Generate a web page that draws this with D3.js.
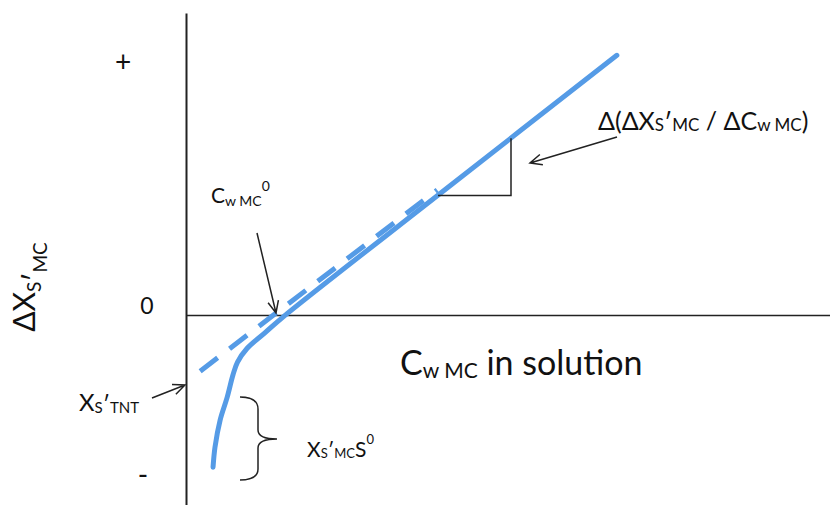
<!DOCTYPE html>
<html>
<head>
<meta charset="utf-8">
<script src="https://cdn.jsdelivr.net/npm/d3@7"></script>
<style>
body { margin: 0; background: #fff; }
text { font-family: Lato, "Open Sans", sans-serif; fill: #111; }
</style>
</head>
<body>
<script>
var width = 830;
var height = 505;

// values (arbitrary units)
var solidX = [0.42, 0.45, 0.53, 0.64, 0.73, 0.80, 0.95, 1.22, 1.51, 4.10, 6.69];
var solidY = [-2.52, -2.19, -1.74, -1.36, -0.99, -0.78, -0.55, -0.30, -0.03, 2.14, 4.30];
var dashX = [0.22, 3.90];
var dashY = [-0.93, 2.07];
var tickLabels = ["+", "0", "-"];
var tickValues = [4.14, 0.12, -2.70];

var x = d3.scaleLinear().domain([0, 10]).range([186, 830]);
var y = d3.scaleLinear().domain([-3.146, 5]).range([505, 13]);

var svg = d3.select("body").append("svg")
    .attr("width", width)
    .attr("height", height);

// axes, no ticks
var yAxis = svg.append("g")
    .attr("transform", `translate(${x(0)},0)`)
    .call(d3.axisLeft(y).tickValues([]).tickSizeOuter(0));
yAxis.select(".domain").attr("stroke", "#222").attr("stroke-width", 2);

var xAxis = svg.append("g")
    .attr("transform", `translate(0,${y(0)})`)
    .call(d3.axisBottom(x).tickValues([]).tickSizeOuter(0));
xAxis.select(".domain").attr("stroke", "#222").attr("stroke-width", 1.5);

var blue = "#559be6";

var solid = solidX.map((d, i) => [d, solidY[i]]);
var dashed = dashX.map((d, i) => [d, dashY[i]]);

var line = d3.line()
    .x((d) => x(d[0]))
    .y((d) => y(d[1]))
    .curve(d3.curveCatmullRom);

svg.append("path")
    .attr("d", line(dashed))
    .attr("fill", "none")
    .attr("stroke", blue)
    .attr("stroke-width", 5)
    .attr("stroke-dasharray", "22,15");

svg.append("path")
    .attr("d", line(solid))
    .attr("fill", "none")
    .attr("stroke", blue)
    .attr("stroke-width", 5)
    .attr("stroke-linecap", "round");

// slope triangle off the straight part of the line
var n = solid.length;
var lineAt = d3.scaleLinear().domain([solid[n - 3][0], solid[n - 1][0]]).range([solid[n - 3][1], solid[n - 1][1]]);
var tx0 = x.invert(438), tx1 = x.invert(511);
svg.append("path")
    .attr("d", `M${x(tx0)},${y(lineAt(tx0))} L${x(tx1)},${y(lineAt(tx0))} L${x(tx1)},${y(lineAt(tx1))}`)
    .attr("fill", "none")
    .attr("stroke", "#222")
    .attr("stroke-width", 1.5);

// tick-ish labels
var tickX = [123, 147, 143];
svg.selectAll(".tk")
    .data(tickLabels)
    .enter().append("text")
    .attr("class", "tk")
    .attr("x", (d, i) => tickX[i])
    .attr("y", (d, i) => y(tickValues[i]))
    .attr("text-anchor", "middle")
    .attr("dominant-baseline", "middle")
    .attr("font-size", (d) => d === "0" ? 23 : 28)
    .text((d) => d);

// text with sub/superscripts: parts = [text, size, baseline offset]
function rich(sel, px, py, parts, anchor) {
    var t = sel.append("text")
        .attr("x", px)
        .attr("y", py)
        .attr("text-anchor", anchor || "start");
    var prev = 0;
    parts.forEach((p) => {
        t.append("tspan")
            .attr("font-size", p[1])
            .attr("dy", p[2] - prev)
            .text(p[0]);
        prev = p[2];
    });
    return t;
}

// y axis title
var yt = svg.append("g").attr("transform", "translate(35,287) rotate(-90)");
rich(yt, 0, 0, [["ΔX", 30, 0], ["S", 19, 6], ["′", 28, 9], ["MC", 19, 12]], "middle");

rich(svg, 400, 375, [["C", 34, 0], ["w MC", 21, 3], [" in solution", 34, 0]]);

rich(svg, 598, 130, [["Δ(ΔX", 25, 0], ["S", 17, 1], ["′", 25, 1], ["MC", 17, 1], [" / ΔC", 25, 0], ["w MC", 17, 1], [")", 25, 0]]);

rich(svg, 211, 203, [["C", 21, 0], ["w MC", 14, 3], ["0", 14, -12]]);

rich(svg, 79, 411, [["X", 24, 0], ["S", 15, 2], ["′", 22, 0], ["TNT", 15, 2]]);

rich(svg, 307, 457, [["X", 21, 0], ["S", 13, 1], ["′", 20, 0], ["MC", 13, 1], ["S", 21, 0], ["0", 13, -13]]);

// arrows with open heads
function arrow(x1, y1, x2, y2) {
    var a = Math.atan2(y2 - y1, x2 - x1), L = 13, w = 0.42;
    var p = `M${x1},${y1} L${x2},${y2}` +
        ` M${x2 - L * Math.cos(a - w)},${y2 - L * Math.sin(a - w)} L${x2},${y2}` +
        ` L${x2 - L * Math.cos(a + w)},${y2 - L * Math.sin(a + w)}`;
    svg.append("path")
        .attr("d", p)
        .attr("fill", "none")
        .attr("stroke", "#222")
        .attr("stroke-width", 1.5);
}
arrow(617, 137, 530, 163);
arrow(257, 233, 276, 313);
arrow(152, 398, 185, 385);

// curly brace
svg.append("path")
    .attr("d", "M240,397 Q258,397 258,409 L258,430 Q258,439 277,439 Q258,439 258,448 L258,469 Q258,480 240,480")
    .attr("fill", "none")
    .attr("stroke", "#222")
    .attr("stroke-width", 1.5);
</script>
</body>
</html>
